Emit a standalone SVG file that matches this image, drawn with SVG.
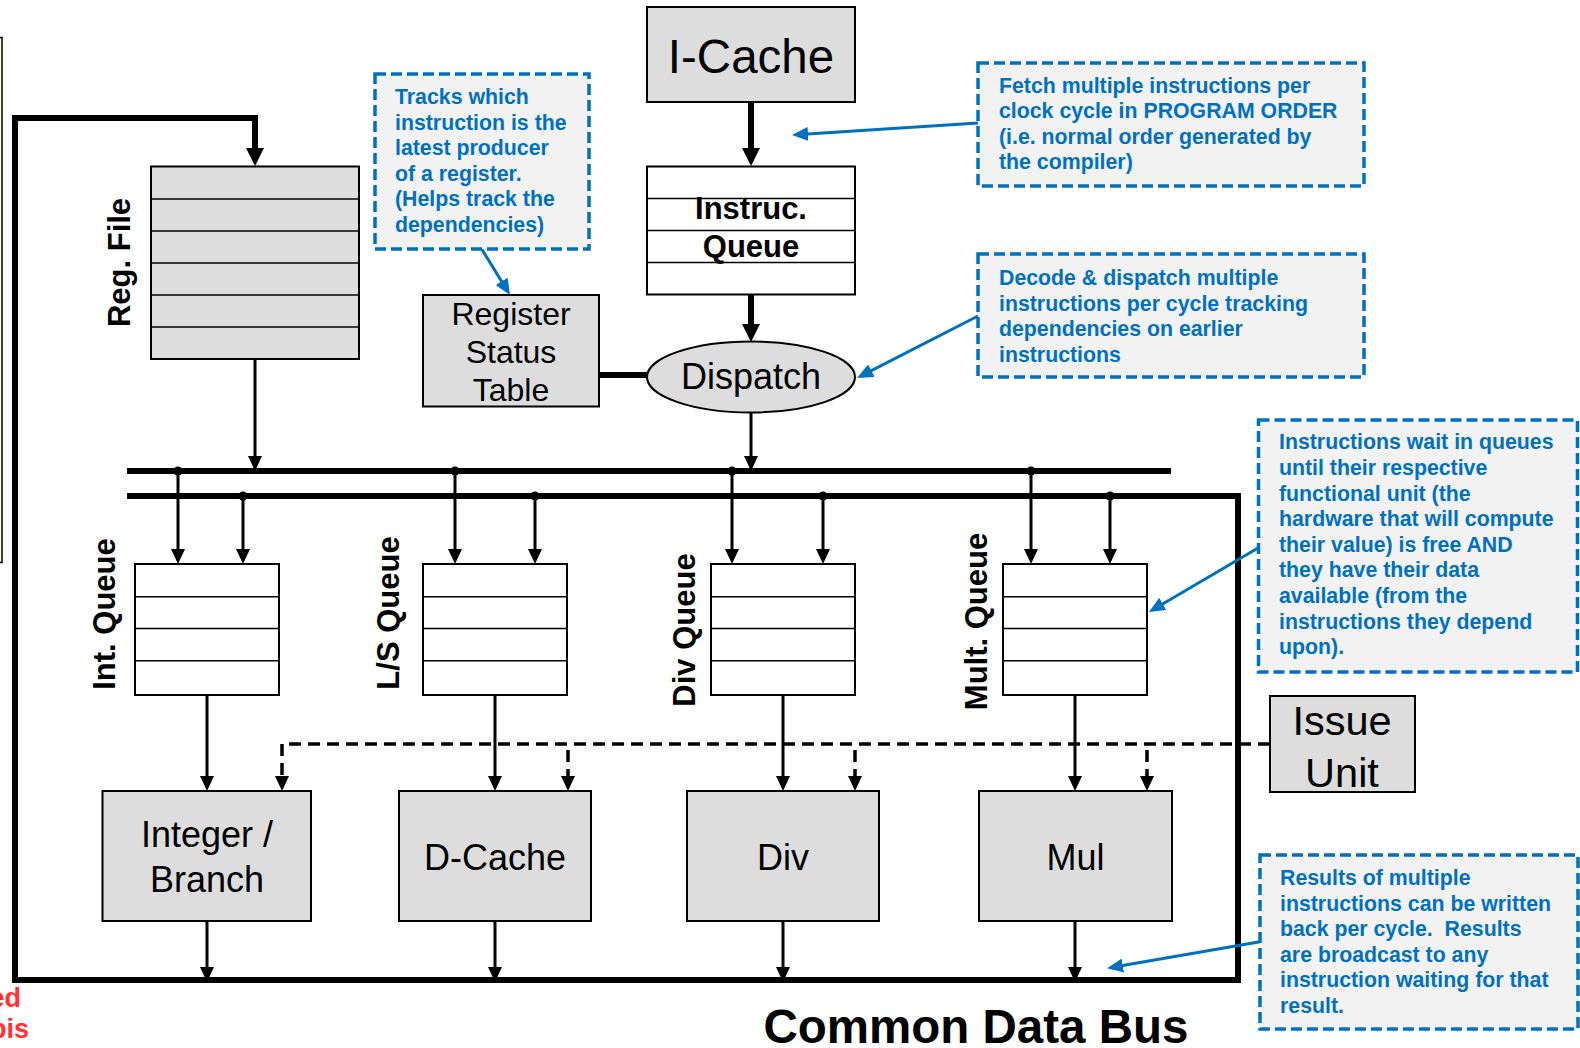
<svg xmlns="http://www.w3.org/2000/svg" width="1580" height="1048" viewBox="0 0 1580 1048">
<style>
text{font-family:"Liberation Sans",Arial,sans-serif}
.box{fill:#dddddd;stroke:#000;stroke-width:2}
.q{fill:#fff;stroke:#000;stroke-width:2}
.dv{stroke:#000;stroke-width:1.6;fill:none}
.call{fill:#f2f2f2;stroke:#0070c0;stroke-width:3.5;stroke-dasharray:11 5}
.ct{font-weight:bold;font-size:21.3px;fill:#0070c0}
.lbl{font-size:36px;text-anchor:middle;fill:#000}
.bl{font-weight:bold;font-size:31px;text-anchor:middle;fill:#000}
.thin{stroke:#000;stroke-width:3;fill:none}
.thick{stroke:#000;stroke-width:6;fill:none;stroke-linejoin:miter}
.dash{stroke:#000;stroke-width:3.5;fill:none;stroke-dasharray:12 7}
.blue{stroke:#0070c0;stroke-width:3;fill:none}
.red{font-weight:bold;font-size:27px;fill:#ff3333;text-anchor:end}
</style>
<defs>
<marker id="a" markerUnits="userSpaceOnUse" markerWidth="15" markerHeight="14" refX="11" refY="7" orient="auto"><path d="M0,0 L15,7 L0,14 z" fill="#000"/></marker>
<marker id="ab" markerUnits="userSpaceOnUse" markerWidth="18" markerHeight="18" refX="12" refY="9" orient="auto"><path d="M0,0 L18,9 L0,18 z" fill="#000"/></marker>
<marker id="abl" markerUnits="userSpaceOnUse" markerWidth="16" markerHeight="14" refX="12" refY="7" orient="auto"><path d="M0,0 L16,7 L0,14 z" fill="#0070c0"/></marker>
</defs>
<rect width="1580" height="1048" fill="#fff"/>

<!-- left cut-off box -->
<rect x="-10" y="37.5" width="12" height="525" fill="#ffffcc" stroke="#000" stroke-width="1.5"/>
<text class="red" x="21" y="1007">ed</text>
<text class="red" x="29" y="1038">bis</text>

<g id="connectors">
<path class="thick" d="M127,496 H1238 V980 H15 V118 H255 V160" marker-end="url(#ab)"/>
<path class="thick" d="M127,471 H1171"/>
<path class="thick" d="M751,102 V160" marker-end="url(#ab)"/>
<path class="thick" d="M751,295 V336" marker-end="url(#ab)"/>
<path class="thick" d="M599,375 H647"/>
<path class="thin" d="M255,359 V467" marker-end="url(#a)"/>
<path class="thin" d="M751,413 V467" marker-end="url(#a)"/>
<g fill="#000">
<circle cx="178" cy="471" r="4.5"/><circle cx="243" cy="496" r="4.5"/>
<circle cx="455" cy="471" r="4.5"/><circle cx="535" cy="496" r="4.5"/>
<circle cx="732" cy="471" r="4.5"/><circle cx="823" cy="496" r="4.5"/>
<circle cx="1031" cy="471" r="4.5"/><circle cx="1110" cy="496" r="4.5"/>
</g>
<path class="thin" d="M178,471 V560" marker-end="url(#a)"/>
<path class="thin" d="M243,496 V560" marker-end="url(#a)"/>
<path class="thin" d="M455,471 V560" marker-end="url(#a)"/>
<path class="thin" d="M535,496 V560" marker-end="url(#a)"/>
<path class="thin" d="M732,471 V560" marker-end="url(#a)"/>
<path class="thin" d="M823,496 V560" marker-end="url(#a)"/>
<path class="thin" d="M1031,471 V560" marker-end="url(#a)"/>
<path class="thin" d="M1110,496 V560" marker-end="url(#a)"/>
<path class="thin" d="M207,695 V787" marker-end="url(#a)"/>
<path class="thin" d="M495,695 V787" marker-end="url(#a)"/>
<path class="thin" d="M783,695 V787" marker-end="url(#a)"/>
<path class="thin" d="M1075,695 V787" marker-end="url(#a)"/>
<path class="dash" d="M1270,744 H282 V787" marker-end="url(#a)"/>
<path class="dash" d="M568,750 V787" marker-end="url(#a)"/>
<path class="dash" d="M855,750 V787" marker-end="url(#a)"/>
<path class="dash" d="M1147,750 V787" marker-end="url(#a)"/>
<path class="thin" d="M207,921 V978" marker-end="url(#a)"/>
<path class="thin" d="M495,921 V978" marker-end="url(#a)"/>
<path class="thin" d="M783,921 V978" marker-end="url(#a)"/>
<path class="thin" d="M1075,921 V978" marker-end="url(#a)"/>
<path class="blue" d="M978,123 L796,134.7" marker-end="url(#abl)"/>
<path class="blue" d="M978,316 L860.6,376.2" marker-end="url(#abl)"/>
<path class="blue" d="M481.7,249 L507.9,291.6" marker-end="url(#abl)"/>
<path class="blue" d="M1258,548 L1152.4,610" marker-end="url(#abl)"/>
<path class="blue" d="M1260,941.7 L1111,967.6" marker-end="url(#abl)"/>
</g>

<g id="icache">
<rect class="box" x="647" y="7" width="208" height="95"/>
<text x="751" y="73" font-size="47.5" text-anchor="middle">I-Cache</text>
</g>

<g id="instruc-queue">
<rect class="q" x="647" y="166.5" width="208" height="128"/>
<path class="dv" d="M647,198.5 H855 M647,230.5 H855 M647,262.5 H855"/>
<text class="bl" x="751" y="219" font-size="31.5">Instruc.</text>
<text class="bl" x="751" y="257" font-size="31.5">Queue</text>
</g>

<g id="dispatch">
<ellipse cx="751" cy="377" rx="104" ry="35.5" fill="#dddddd" stroke="#000" stroke-width="2"/>
<text class="lbl" x="751" y="389" font-size="37">Dispatch</text>
</g>

<g id="reg-status">
<rect class="box" x="423" y="295" width="176" height="111.5"/>
<text x="511" y="325" font-size="32" text-anchor="middle">Register</text>
<text x="511" y="363" font-size="32" text-anchor="middle">Status</text>
<text x="511" y="400.5" font-size="32" text-anchor="middle">Table</text>
</g>

<g id="reg-file">
<rect class="box" x="151" y="166.5" width="208" height="192.5"/>
<path class="dv" d="M151,199 H359 M151,231 H359 M151,263 H359 M151,295 H359 M151,327 H359"/>
<text class="bl" transform="translate(130,262.5) rotate(-90)">Reg. File</text>
</g>

<g id="int-queue">
<rect class="q" x="135" y="564" width="144" height="131"/>
<path class="dv" d="M135,596.7 H279 M135,628.5 H279 M135,660.7 H279"/>
<text class="bl" transform="translate(115,614) rotate(-90)">Int. Queue</text>
</g>
<g id="ls-queue">
<rect class="q" x="423" y="564" width="144" height="131"/>
<path class="dv" d="M423,596.7 H567 M423,628.5 H567 M423,660.7 H567"/>
<text class="bl" transform="translate(399,613) rotate(-90)">L/S Queue</text>
</g>
<g id="div-queue">
<rect class="q" x="711" y="564" width="144" height="131"/>
<path class="dv" d="M711,596.7 H855 M711,628.5 H855 M711,660.7 H855"/>
<text class="bl" transform="translate(695,630) rotate(-90)">Div Queue</text>
</g>
<g id="mult-queue">
<rect class="q" x="1003" y="564" width="144" height="131"/>
<path class="dv" d="M1003,596.7 H1147 M1003,628.5 H1147 M1003,660.7 H1147"/>
<text class="bl" transform="translate(987,621.5) rotate(-90)">Mult. Queue</text>
</g>

<g id="int-branch">
<rect class="box" x="102.5" y="791" width="208.5" height="130"/>
<text class="lbl" x="207" y="846.7">Integer /</text>
<text class="lbl" x="207" y="891.7">Branch</text>
</g>
<g id="dcache">
<rect class="box" x="399" y="791" width="192" height="130"/>
<text class="lbl" x="495" y="870">D-Cache</text>
</g>
<g id="div">
<rect class="box" x="687" y="791" width="192" height="130"/>
<text class="lbl" x="783" y="870">Div</text>
</g>
<g id="mul">
<rect class="box" x="979" y="791" width="193" height="130"/>
<text class="lbl" x="1075.5" y="870">Mul</text>
</g>

<g id="issue-unit">
<rect class="box" x="1270" y="696" width="145" height="96"/>
<text x="1342" y="735" font-size="41.5" text-anchor="middle">Issue</text>
<text x="1342" y="787" font-size="41.5" text-anchor="middle">Unit</text>
</g>

<g id="cdb-label">
<text x="976" y="1043" font-size="47.5" font-weight="bold" text-anchor="middle">Common Data Bus</text>
</g>

<g id="note-tracks">
<rect class="call" x="375" y="74" width="214" height="175"/>
<text class="ct" x="395" y="104">Tracks which</text>
<text class="ct" x="395" y="129.5">instruction is the</text>
<text class="ct" x="395" y="155">latest producer</text>
<text class="ct" x="395" y="180.5">of a register.</text>
<text class="ct" x="395" y="206">(Helps track the</text>
<text class="ct" x="395" y="231.5">dependencies)</text>
</g>

<g id="note-fetch">
<rect class="call" x="978" y="63" width="386" height="123"/>
<text class="ct" x="999" y="92.5">Fetch multiple instructions per</text>
<text class="ct" x="999" y="118">clock cycle in PROGRAM ORDER</text>
<text class="ct" x="999" y="143.5">(i.e. normal order generated by</text>
<text class="ct" x="999" y="169">the compiler)</text>
</g>

<g id="note-decode">
<rect class="call" x="978" y="254" width="386" height="123"/>
<text class="ct" x="999" y="285">Decode &amp; dispatch multiple</text>
<text class="ct" x="999" y="310.5">instructions per cycle tracking</text>
<text class="ct" x="999" y="336">dependencies on earlier</text>
<text class="ct" x="999" y="361.5">instructions</text>
</g>

<g id="note-queues">
<rect class="call" x="1258.5" y="420" width="319" height="252"/>
<text class="ct" x="1279" y="449.3">Instructions wait in queues</text>
<text class="ct" x="1279" y="474.9">until their respective</text>
<text class="ct" x="1279" y="500.5">functional unit (the</text>
<text class="ct" x="1279" y="526.1">hardware that will compute</text>
<text class="ct" x="1279" y="551.7">their value) is free AND</text>
<text class="ct" x="1279" y="577.3">they have their data</text>
<text class="ct" x="1279" y="602.9">available (from the</text>
<text class="ct" x="1279" y="628.5">instructions they depend</text>
<text class="ct" x="1279" y="654">upon).</text>
</g>

<g id="note-results">
<rect class="call" x="1260" y="855" width="318" height="174"/>
<text class="ct" x="1280" y="885">Results of multiple</text>
<text class="ct" x="1280" y="910.6">instructions can be written</text>
<text class="ct" x="1280" y="936.2">back per cycle.&#160; Results</text>
<text class="ct" x="1280" y="961.8">are broadcast to any</text>
<text class="ct" x="1280" y="987.4">instruction waiting for that</text>
<text class="ct" x="1280" y="1013">result.</text>
</g>
</svg>
